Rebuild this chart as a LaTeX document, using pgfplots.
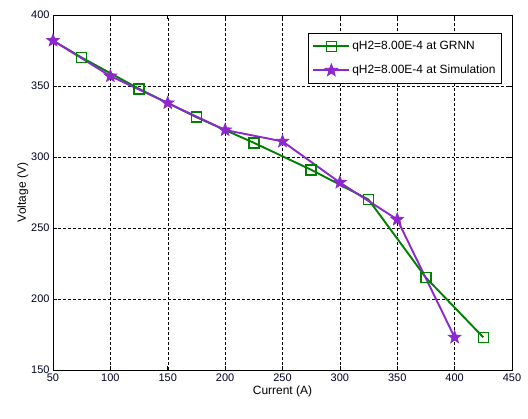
\documentclass[border=0pt]{standalone}
\usepackage{pgfplots}
\pgfplotsset{compat=1.18}
\usepackage{fontspec}
\setmainfont{Liberation Sans}
\definecolor{grnn}{RGB}{0,128,0}
\definecolor{simu}{RGB}{140,40,205}
\pgfdeclareplotmark{fstar}{%
  \pgfpathmoveto{\pgfpointpolar{90}{\pgfplotmarksize}}%
  \pgfpathlineto{\pgfpointpolar{126}{0.42\pgfplotmarksize}}%
  \pgfpathlineto{\pgfpointpolar{162}{\pgfplotmarksize}}%
  \pgfpathlineto{\pgfpointpolar{198}{0.42\pgfplotmarksize}}%
  \pgfpathlineto{\pgfpointpolar{234}{\pgfplotmarksize}}%
  \pgfpathlineto{\pgfpointpolar{270}{0.42\pgfplotmarksize}}%
  \pgfpathlineto{\pgfpointpolar{306}{\pgfplotmarksize}}%
  \pgfpathlineto{\pgfpointpolar{342}{0.42\pgfplotmarksize}}%
  \pgfpathlineto{\pgfpointpolar{18}{\pgfplotmarksize}}%
  \pgfpathlineto{\pgfpointpolar{54}{0.42\pgfplotmarksize}}%
  \pgfpathclose
  \pgfusepathqfillstroke}
\begin{document}
\begin{tikzpicture}[x=1bp,y=1bp]
\begin{axis}[
  at={(53bp,49bp)}, anchor=south west,
  scale only axis, width=459bp, height=355bp,
  xmin=50, xmax=450, ymin=150, ymax=400,
  xtick={50,100,...,450}, ytick={150,200,...,400},
  tick align=inside,
  xtick pos=both, ytick pos=both,
  grid=major,
  major grid style={densely dashed, black, line width=0.5pt},
  axis line style={black, line width=0.8pt},
  tick style={black, line width=0.6pt},
  major tick length=4bp,
  /pgf/number format/assume math mode=true,
  tick label style={font=\fontsize{11}{12}\selectfont, text=black!85!blue},
  label style={font=\fontsize{12}{13}\selectfont},
  xlabel={Current (A)}, ylabel={Voltage (V)},
  xlabel style={yshift=2bp},
  ylabel style={yshift=-4bp},
  legend style={at={(rel axis cs:0.978,0.949)}, anchor=north east,
    font=\fontsize{12}{14}\selectfont, draw=black, line width=0.8pt,
    row sep=10bp, inner xsep=4bp, inner ysep=6bp},
  legend cell align=left,
  legend image code/.code={\draw[#1, mark repeat=2, mark phase=2] plot coordinates {(0bp,0bp) (18bp,0bp) (36bp,0bp)};},
]
\addplot[color=grnn, line width=1.9pt, no marks, forget plot]
  coordinates {(50,382) (75,370)};
\addplot[color=grnn, line width=1.9pt, mark=square, mark size=5bp,
  mark options={draw=grnn, fill=none, line width=1.6pt, solid}]
  coordinates {(75,370) (125,348) (175,328) (225,310) (275,291) (325,270) (375,215) (425,173)};
\addlegendentry{qH2=8.00E-4 at GRNN}
\addplot[color=simu, line width=1.9pt, mark=fstar, mark size=6.5bp,
  mark options={draw=simu, fill=simu, line width=0.8pt, solid}]
  coordinates {(50,382) (100,357) (150,338) (200,319) (250,311) (300,282) (350,256) (400,173)};
\addlegendentry{qH2=8.00E-4 at Simulation}
\end{axis}
\pgfresetboundingbox
\useasboundingbox (0bp,0bp) rectangle (528bp,419bp);
\end{tikzpicture}
\end{document}
